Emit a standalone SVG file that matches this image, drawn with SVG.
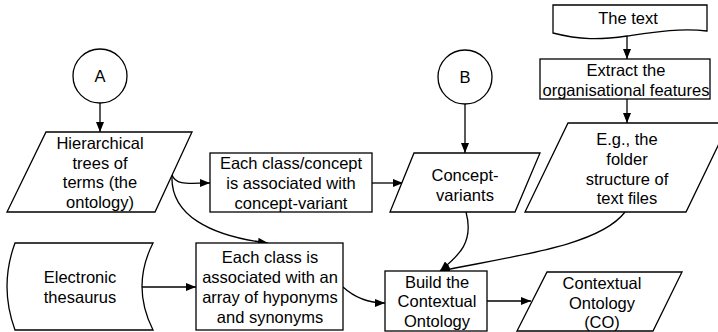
<svg xmlns="http://www.w3.org/2000/svg" width="718" height="332" viewBox="0 0 718 332">
<style>
.s{fill:#fff;stroke:#000;stroke-width:1.3}
.t{font-family:"Liberation Sans",Arial,sans-serif;font-size:16.5px;text-anchor:middle;fill:#000}
.c{fill:none;stroke:#000;stroke-width:1.3;marker-end:url(#ah)}
</style>
<defs>
<marker id="ah" viewBox="0 0 10 8" refX="10" refY="4" markerWidth="10" markerHeight="8" markerUnits="userSpaceOnUse" orient="auto">
<path d="M0,0 L10,4 L0,8 Z" fill="#000"/>
</marker>
</defs>
<rect width="718" height="332" fill="#fff"/>
<g id="connectors">
<line class="c" x1="100" y1="103" x2="100" y2="132"/>
<line class="c" x1="465" y1="104" x2="465" y2="153"/>
<line class="c" x1="627" y1="36" x2="627" y2="59"/>
<line class="c" x1="627" y1="99" x2="627" y2="123"/>
<path class="c" d="M172,175 C176,186 190,183 210,183"/>
<path class="c" d="M172,175 C170,215 210,236 268,243"/>
<line class="c" x1="372" y1="183" x2="403" y2="183"/>
<line class="c" x1="142" y1="287" x2="196" y2="287"/>
<path class="c" d="M343,287 C355,298 368,303 385,303"/>
<path class="c" d="M466,212 C475,245 455,258 440,271"/>
<path class="c" d="M625,212 C600,245 520,255 440,271"/>
<line class="c" x1="487" y1="301" x2="531" y2="301"/>
</g>
<g id="nodeA">
<circle class="s" cx="100" cy="76" r="27"/>
<text class="t" x="100" y="82">A</text>
</g>
<g id="nodeB">
<circle class="s" cx="465" cy="77" r="27"/>
<text class="t" x="465" y="83">B</text>
</g>
<g id="hier">
<polygon class="s" points="46,132 192,132 155,212 7,212"/>
<text class="t" x="100" y="149">Hierarchical</text>
<text class="t" x="100" y="169">trees of</text>
<text class="t" x="100" y="188">terms (the</text>
<text class="t" x="100" y="208">ontology)</text>
</g>
<g id="eachConcept">
<rect class="s" x="210" y="153" width="162" height="59"/>
<text class="t" x="291" y="169">Each class/concept</text>
<text class="t" x="291" y="189">is associated with</text>
<text class="t" x="291" y="209">concept-variant</text>
</g>
<g id="conceptVariants">
<polygon class="s" points="414,153 540,153 515,212 390,212"/>
<text class="t" x="465" y="181">Concept-</text>
<text class="t" x="465" y="201">variants</text>
</g>
<g id="theText">
<path class="s" d="M553,5 H707 V31 C680,28 655,32 627,36 C600,40 580,40 553,33 Z"/>
<text class="t" x="628" y="24">The text</text>
</g>
<g id="extract">
<rect class="s" x="540" y="59" width="170" height="40"/>
<text class="t" x="626" y="76">Extract the</text>
<text class="t" x="626" y="96">organisational features</text>
</g>
<g id="eg">
<polygon class="s" points="568,123 729,123 686,212 525,212"/>
<text class="t" x="627" y="145">E.g., the</text>
<text class="t" x="627" y="165">folder</text>
<text class="t" x="627" y="185">structure of</text>
<text class="t" x="627" y="204">text files</text>
</g>
<g id="thesaurus">
<path class="s" d="M15,243 L153,243 Q131,286.5 153,330 L15,330 Q-1,286.5 15,243 Z"/>
<text class="t" x="80" y="283">Electronic</text>
<text class="t" x="80" y="303">thesaurus</text>
</g>
<g id="eachClass">
<rect class="s" x="196" y="243" width="147" height="87"/>
<text class="t" x="270" y="263">Each class is</text>
<text class="t" x="270" y="283">associated with an</text>
<text class="t" x="270" y="303">array of hyponyms</text>
<text class="t" x="270" y="323">and synonyms</text>
</g>
<g id="build">
<rect class="s" x="385" y="271" width="102" height="60"/>
<text class="t" x="437" y="288">Build the</text>
<text class="t" x="437" y="307">Contextual</text>
<text class="t" x="437" y="327">Ontology</text>
</g>
<g id="contextual">
<polygon class="s" points="547,272 682,272 653,331 517,331"/>
<text class="t" x="602" y="289">Contextual</text>
<text class="t" x="602" y="309">Ontology</text>
<text class="t" x="602" y="328">(CO)</text>
</g>
</svg>
